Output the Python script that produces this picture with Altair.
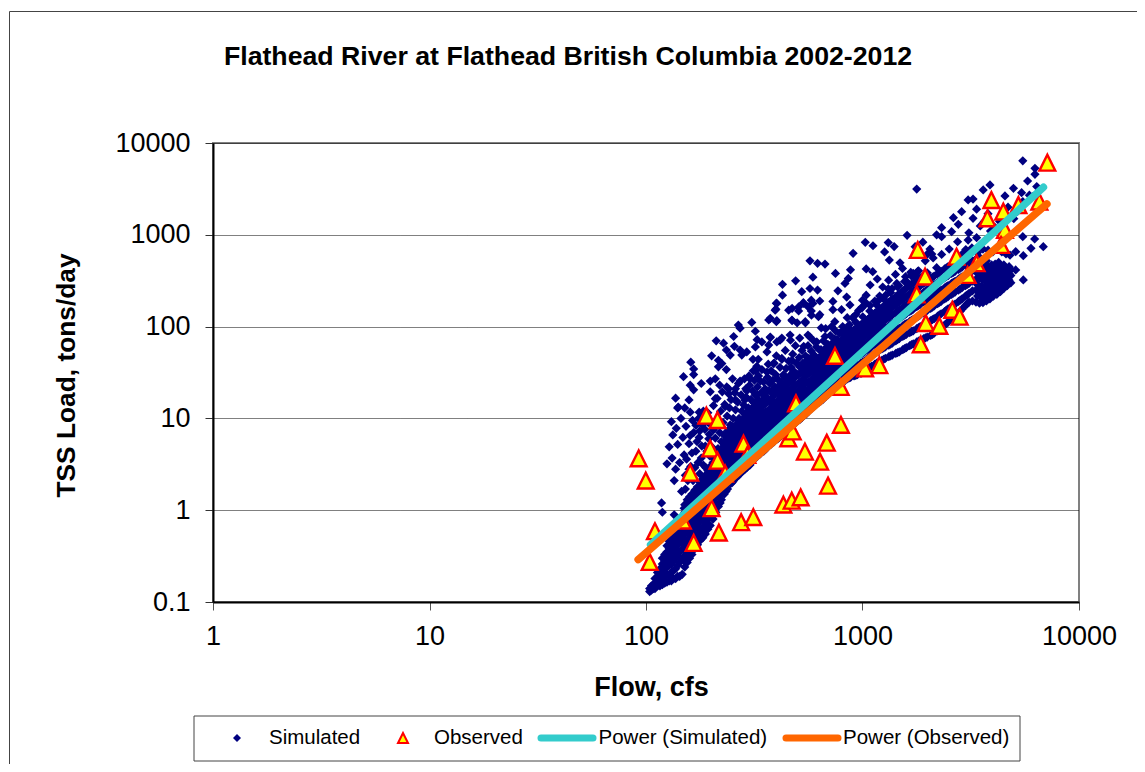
import altair as alt
import pandas as pd

TITLE = "Flathead River at Flathead British Columbia 2002-2012"
X_TITLE = "Flow, cfs"
Y_TITLE = "TSS Load, tons/day"
X_TICKS = [1, 10, 100, 1000, 10000]
Y_TICKS = [0.1, 1, 10, 100, 1000, 10000]
LEGEND_LABELS = ["Simulated", "Observed", "Power (Simulated)", "Power (Observed)"]

# Simulated: dense band, read as flow -> loads
SIM_BAND = [
 (104,[.13,.14]),(106,[.135,.15]),(108,[.14,.155]),(110,[.14,.16,.18]),(113,[.15,.17,.19,.21]),
 (116,[.15,.17,.2,.23]),(119,[.155,.18,.22,.26,.3]),(122,[.16,.19,.23,.28,.33]),(125,[.165,.2,.24,.29,.35,.41]),
 (128,[.17,.2,.25,.31,.38,.46]),(131,[.17,.21,.26,.33,.41,.5]),(134,[.18,.22,.28,.35,.44,.56]),
 (137,[.18,.23,.3,.38,.48,.62]),(140,[.19,.25,.32,.42,.53,.68]),(143,[.19,.27,.35,.45,.58,.75]),
 (147,[.2,.29,.38,.5,.65,.85]),(151,[.24,.32,.42,.55,.72,.95,1.15]),(155,[.27,.35,.46,.6,.8,1.05,1.3]),
 (159,[.3,.39,.5,.66,.88,1.15,1.4]),(163,[.33,.43,.56,.73,.97,1.25,1.5]),(168,[.38,.48,.62,.8,1.05,1.35,1.65]),
 (173,[.42,.54,.7,.9,1.15,1.5,1.8]),(178,[.47,.6,.78,1,1.3,1.65,2]),(183,[.5,.65,.85,1.1,1.4,1.8,2.2]),
 (188,[.55,.72,.93,1.2,1.55,2,2.4]),(193,[.62,.8,1.02,1.3,1.7,2.2,2.7]),(198,[.68,.87,1.1,1.45,1.85,2.4,3]),
 (204,[.8,1,1.3,1.6,2.1,2.7,3.3]),(210,[.95,1.2,1.5,1.9,2.4,3,3.7]),(216,[1.1,1.4,1.75,2.2,2.7,3.4,4.2]),
 (223,[1.3,1.6,2,2.5,3.1,3.8,4.7]),(230,[1.5,1.85,2.3,2.8,3.5,4.3,5.2]),(238,[1.7,2.1,2.6,3.2,3.9,4.8,5.8]),
 (246,[1.95,2.4,2.9,3.5,4.3,5.2,6.3]),(254,[2.1,2.6,3.1,3.8,4.7,5.7,7]),(263,[2.3,2.8,3.4,4.2,5.1,6.2,7.5]),
 (272,[2.5,3.1,3.7,4.5,5.5,6.7,8]),(282,[2.7,3.3,4,4.9,6,7.2,8.6]),(292,[2.9,3.6,4.3,5.2,6.3,7.7,9.3]),
 (302,[3.1,3.8,4.6,5.6,6.8,8.3,10]),(313,[3.5,4.2,5.1,6.1,7.4,9,11]),(325,[3.8,4.6,5.5,6.6,8,9.8,12]),
 (337,[4.1,5,6,7.2,8.7,10.5,13]),(350,[4.4,5.3,6.4,7.8,9.4,11.5,14]),(363,[4.8,5.8,7,8.4,10,12,15]),
 (377,[5.2,6.3,7.6,9.1,11,13,16]),(391,[5.6,6.8,8.2,9.8,12,14.5,18]),(406,[6,7.3,8.8,10.6,13,15.5,19]),
 (421,[6.5,7.9,9.5,11.5,14,17,20]),(437,[7,8.5,10.2,12.5,15,18,22]),(453,[7.6,9.2,11,13.5,16,19.5,24]),
 (470,[8.2,10,12,14.5,17.5,21,26]),(488,[8.8,10.6,13,15.5,19,23,28]),(506,[9.5,11.5,14,17,20,24,30]),
 (525,[10.2,12.5,15,18,22,26,32]),(545,[11,13.5,16,19.5,24,29,35]),(565,[12,14.5,17.5,21,25,31,37]),
 (586,[13,15.5,19,23,27,33,40]),(608,[14,17,20,24,29,35,42]),(631,[15,18,22,26,31,38,45]),
 (655,[16,19.5,23,28,34,40,48]),(680,[17.5,21,25,30,36,43,52]),(705,[19,23,27,32,39,46,55]),
 (732,[20.5,25,29,35,42,50,60]),(760,[22,26,31,37,45,54,64]),(788,[23,28,34,40,48,58,68]),
 (818,[25,30,36,43,52,62,74]),(849,[27,32,39,47,56,67,80]),(881,[28,34,41,50,60,72,86]),
 (914,[29,36,44,53,64,77,92]),(948,[30,38,47,57,68,82,98]),(984,[31,40,50,60,73,88,105]),
 (1021,[32,42,53,65,78,94,112]),(1060,[35,45,56,69,84,100,120]),(1100,[37,48,60,74,90,108,130]),
 (1141,[39,51,64,79,96,116,140]),(1184,[41,54,68,84,102,124,150]),(1229,[43,57,72,90,110,133,160]),
 (1275,[45,60,76,96,118,142,172]),(1323,[47,63,81,102,126,152,185]),(1373,[49,66,86,108,134,162,198]),
 (1425,[51,70,91,115,142,174,212]),(1479,[53,74,96,122,152,186,228]),(1535,[56,78,102,130,162,198,245]),
 (1593,[59,82,108,138,172,212,262]),(1653,[62,86,114,146,184,228,280]),(1716,[65,90,120,155,196,244,300]),
 (1781,[68,95,127,165,208,260,320]),(1848,[71,100,134,175,222,278,340]),(1918,[74,105,142,186,236,296,360]),
 (1990,[77,110,150,198,252,315,385]),(2065,[80,116,158,210,268,335]),(2143,[85,122,168,222,285,355]),
 (2224,[90,130,178,236,302,378]),(2308,[96,138,188,250,320,400]),(2395,[104,146,200,265,340,425]),
 (2485,[112,156,212,280,360,450]),(2579,[120,166,225,296,380,475]),(2676,[130,176,238,312,400,500]),
 (2777,[140,188,250,330,420,525]),(2882,[155,200,265,348,445,555]),(2991,[170,215,280,368,470,585]),
 (3104,[185,230,296,388,495]),(3221,[190,245,312,408,520]),(3343,[185,250,328,428,545]),
 (3469,[180,245,335,448,570]),(3600,[182,240,320,430]),(3736,[190,240,310,400,520]),
 (3877,[200,255,325,410]),(4023,[215,265,335,430]),(4175,[225,280,350,440]),(4333,[240,300,370,460]),
 (4497,[260,320,390,470]),(4667,[280,340,410]),(4843,[300,360,420]),
]

# Simulated: same band, the readings that lie between the columns above
SIM_BAND_2 = [
 (150,[.28,.37,.48,.63,.83,1.05]),(157,[.32,.43,.55,.73,.96,1.25]),(165,[.39,.5,.66,.86,1.13,1.45]),
 (175,[.49,.63,.82,1.04,1.35,1.75]),(185,[.58,.75,.97,1.25,1.6,2.1]),(195,[.7,.93,1.2,1.55,2,2.55]),
 (207,[.9,1.15,1.42,1.8,2.3,3,3.8]),(220,[1.2,1.5,1.85,2.3,2.9,3.6,4.5]),(234,[1.6,2,2.45,3,3.7,4.5,5.5,6.6]),
 (250,[2,2.5,3,3.7,4.5,5.5,6.7,8.2]),(268,[2.4,3,3.6,4.4,5.3,6.5,7.8,9.5]),(287,[2.8,3.5,4.2,5.1,6.2,7.5,9,11]),
 (307,[3.3,4,4.9,5.9,7.1,8.7,10.5,12.8]),(331,[4,4.8,5.8,6.9,8.4,10.2,12.5,15]),(356,[4.6,5.6,6.7,8.1,9.7,11.8,14.5,17.5]),
 (384,[5.4,6.5,7.9,9.4,11.5,14,17,20.5]),(413,[6.2,7.6,9.1,11,13.5,16,19.5,23]),(445,[7.3,8.8,10.6,13,15.5,18.7,23,27]),
 (479,[8.5,10.3,12.5,15,18,22,27,32]),(516,[9.8,12,14.5,17.5,21,25,31,37]),(555,[11.5,14,16.7,20,24.5,30,36,43]),
 (597,[13.5,16,19.5,23.5,28,34,41,49]),(643,[15.5,18.7,22.5,27,32.5,39,47,56]),(692,[18,22,26,31,37.5,45,54,64]),
 (745,[21,25.5,30,36,43.5,52,62,73]),(803,[24,29,35,41.5,50,60,71,84]),(865,[27.5,33,40,48.5,58,69.5,83,97]),
 (931,[29.5,37,45.5,55,66,79.5,95,112]),(1003,[31.5,41,51.5,62.5,75.5,91,108,128]),(1080,[36,46.5,58,71.5,87,104,125,148]),
 (1162,[40,52.5,66,81.5,99,120,145,172]),(1252,[44,58.5,74,93,114,137,166,200]),(1348,[48,64.5,83.5,105,130,157,191,235]),
 (1452,[52,72,93.5,118,147,180,220,270]),(1564,[57.5,80,105,134,167,205,253,310]),(1685,[63.5,88,117,150,190,236,290,355]),
 (1815,[69.5,97.5,130,170,215,269,330,405]),(1954,[75.5,107,146,192,244,305,372]),(2104,[82,119,163,216,276,345]),
 (2266,[93,134,183,243,311,389]),(2440,[108,151,206,272,350,437]),(2627,[125,171,231,304,390,487]),
 (2829,[147,194,257,339,432,540]),(3047,[177,222,288,378,482]),(3400,[215,285,380,490]),(3535,[210,275,370,480]),
 (3668,[210,270,350,460]),(3806,[220,280,360,460]),(3950,[230,290,370,470]),(4100,[240,305,385,480]),
 (4254,[260,325,405,500]),(4415,[280,345,430]),(4580,[300,365,440]),(4755,[320,380,450]),
]

# Simulated: scattered points, left wing
SIM_LEFT = [
 (118,1.2),(119,.95),(125,3.2),(128,4.9),(131,9.2),(132,3.7),(133,6.6),(135,.89),(135,2.1),(137,2.8),(138,7.8),(140,13),
 (140,5.2),(143,3.3),(145,10),(146,1.6),(148,6.2),(150,4),(151,13),(152,2.4),(153,8.2),(158,5.3),(161,3),(164,9.5),(166,7),
 (170,4.4),(175,10),(176,6.2),(180,3.7),(182,8.5),(184,12),(188,5),(194,9),(196,6.7),(205,7.5),(218,9.5),
]

# Simulated: scattered points read one by one from the top edge of the cloud
SIM_TOP = [
 (137,16.6),(141,13.3),(158,15.9),(149,28.5),(161,41),(166,34.6),(166,30),(160,23),(166,20.5),(180,24),(160,11.7),(176,11.7),
 (198,25.5),(209,27),(219,23),(201,48),(211,70),(228,66),(235,55.6),(245,49),(216,43),(224,39.6),(216,36.5),(235,34),(254,78),
 (256,61),(272,55.6),(292,53),(277,49),(320,60),(320,89),(326,72),(343,68),(267,104),(272,96),(308,111),(369,118),(402,116),
 (395,151),(402,179),(472,118),(499,110),(456,151),(507,164),(544,113),(535,179),(590,179),(581,133),(626,128),(375,77),(402,68),
 (369,63),(362,53),(424,75),(465,71),(388,39.6),(424,45),(330,44),(312,44),(320,33),(362,32),(432,29),(272,25.5),(302,27),
 (337,25.5),(236,22),(259,21),(292,20),(241,18.5),(198,19.5),(209,16.4),(232,13.4),(259,15.9),(286,15.9),(362,20),(326,18),
 (402,20),(513,75),(572,77),(615,68),(535,61),(472,43),(553,41),
 (1030,828),(1118,760),(905,628),(1315,822),(1400,745),(1265,650),(1330,530),(1490,495),(572,520),(620,489),(671,480),(590,345),
 (750,380),(880,415),(1040,425),(1115,397),(860,335),(830,295),(770,245),(427,289),(491,315),(427,220),(524,240),(572,260),
 (620,250),(635,190),(533,182),(580,194),(560,165),(400,180),(398,155),(473,158),(507,148),(580,148),(635,135),(730,188),
 (730,153),(845,210),(800,153),(875,172),(995,160),(1085,284),(1040,220),(1000,194),(1190,194),(1315,258),(1440,295),(1580,350),
 (1716,380),(1540,205),(1350,187),(375,123),(400,113),(473,116),(545,110),(745,113),(645,97),(720,100),(850,125),(810,90),
 (375,76),(416,71),(463,81),(560,81),(671,78),(770,71),
]

# Simulated: scattered points, right end
SIM_RIGHT = [
 (1170,330),(1240,270),(1320,320),(1370,260),(1420,370),(1470,280),(1530,430),(1600,310),(1607,988),(1670,390),(1690,374),
 (1750,742),(1750,350),(1780,3150),(1800,400),(1820,640),(1900,830),(1950,520),(2000,620),(2050,700),(2090,617),(2120,560),
 (2200,438),(2200,1000),(2320,1195),(2320,955),(2320,612),(2515,700),(2580,1080),(2630,1535),(2750,840),(2770,1300),(2870,1785),
 (2900,620),(3000,690),(3075,2400),(3075,877),(3100,1050),(3200,720),(3240,2450),(3240,1510),(3365,1900),(3365,930),(3400,640),
 (3500,1250),(3600,700),(3610,3080),(3650,1400),(3800,1700),(3800,680),(3880,3490),(3900,1100),(4000,650),(4100,1200),(4200,700),
 (4300,1400),(4400,650),(4550,2650),(4600,620),(4700,2000),(4800,600),(4980,3210),(5000,1500),(5100,655),(5100,414),(5200,1800),
 (5430,2880),(5500,6400),(5500,2300),(5500,955),(5530,592),(5530,322),(5790,3855),(5900,2700),(6000,713),(6100,2600),(6240,900),
 (6260,5300),(6260,4560),(6380,3350),(6840,742),
]

# Simulated: the busier middle of the cloud
SIM_MIDDLE = [
 (152,1.7),(156,2.1),(154,3.6),(158,2.8),(160,6.5),(163,4.2),(165,2.1),(168,2.9),(170,8.4),(172,5.6),(174,3.3),(177,2.5),(177,7.3),
 (180,10.5),(181,5.0),(184,3.1),(187,7.6),(189,2.9),(191,4.4),(193,11.5),(195,6),(197,3.9),(201,8.6),(203,4.8),(205,13.8),(207,3.6),
 (209,6.1),(211,9.3),(213,16.5),(215,4.7),(219,7),(221,12),(223,5.6),(225,19.5),(227,9),(229,6.6),(231,14.2),(235,5.9),(237,10.6),
 (239,7.4),(241,21),(243,13),(245,8.5),(247,16),(249,6.8),(251,27),(253,10),(255,8),(257,19),(259,12.4),(263,8.7),(265,15),(267,24),
 (269,10),(271,9),(275,18),(277,12),(279,9.3),(283,14),(285,27),(287,10.4),(289,21),(291,17),(293,11.8),(297,13),(299,29),(301,23),
 (303,11),(305,16),(309,12.5),(311,20),(313,33),(315,14.8),(317,26),(319,18),(323,13.6),(325,37),(327,22),(329,16),(331,29),(334,14),
 (340,19),(343,34),(346,16),(349,25),(355,21),(358,17),(364,28),(367,39),(370,20),(373,24),(379,33),(382,19),(385,26),(391,40),(394,22),
 (397,30),(400,48),(404,27),(408,20),(416,36),(420,25),(424,44),(432,30),(436,23),(440,55),(444,35),(448,27),(456,42),(460,29),(468,36),
 (472,26),(476,50),(480,33),(490,62),(495,40),(500,30),(510,46),(515,36),(525,55),(530,40),(535,33),(545,48),(555,38),(560,62),(565,45),
 (575,40),(580,54),(590,44),(595,70),(600,48),(612,60),(620,42),(636,55),(644,48),(660,70),(668,55),(676,95),(684,60),(692,52),(710,80),
 (720,65),(740,58),(750,90),(760,72),(780,85),(790,68),(810,100),(820,80),(845,90),(870,105),(900,125),(930,135),(960,150),(1000,165),
 (1040,180),(1085,170),(1140,190),(1200,215),(1280,220),
]

OBS_FLOW = [92.5,99.7,110,104,148,160,166,190,214,198,214,232,201,217,275,313,282,294,431,471,518,493,454,476,542,637,684,693,795,793,
            7140,3940,4470,5250,6560,3775,4550,4365,1800,2720,3365,1945,3060,1780,2600,2810,1960,2265,1858,746,1196,1028]
OBS_LOAD = [3.67,2.1,.59,.273,.77,2.56,.44,10.7,9.6,4.7,3.46,2.5,1.05,.57,.74,.84,5.3,4,1.15,1.27,1.38,14.6,6.07,7.2,4.34,3.37,5.43,1.85,8.5,22,
            6100,2390,1790,2110,2300,1510,1130,774,683,577,490,350,365,225,152,128,109,102,64,48,38,35]

TREND_SIM_FLOW = [105, 6850]
TREND_SIM_LOAD = [0.42, 3290]
TREND_OBS_FLOW = [92, 7110]
TREND_OBS_LOAD = [0.29, 2170]

sim_rows = [{"flow": f, "load": v} for f, vs in SIM_BAND + SIM_BAND_2 for v in vs]
sim_rows += [{"flow": f, "load": v} for f, v in SIM_LEFT + SIM_TOP + SIM_RIGHT + SIM_MIDDLE]
sim_df = pd.DataFrame(sim_rows)
obs_df = pd.DataFrame({"flow": OBS_FLOW, "load": OBS_LOAD})
t_sim = pd.DataFrame({"flow": TREND_SIM_FLOW, "load": TREND_SIM_LOAD})
t_obs = pd.DataFrame({"flow": TREND_OBS_FLOW, "load": TREND_OBS_LOAD})

FONT = "Liberation Sans"
TRI = "M0,-1L-1,1L1,1Z"

x_enc = alt.X("flow:Q", scale=alt.Scale(type="log", domain=[1, 10000], nice=False),
              axis=alt.Axis(values=X_TICKS, grid=False, labelExpr="'' + datum.value", labelFont=FONT, labelFontSize=27,
                            labelColor="black", labelPadding=13, tickSize=8, tickColor="#555555", domainColor="black",
                            domainWidth=2, labelFlush=False, labelOverlap=False, title=X_TITLE, titleFont=FONT,
                            titleFontSize=27, titleFontWeight="bold", titleColor="black", titleX=438, titleY=85,
                            titleBaseline="middle"))
y_enc = alt.Y("load:Q", scale=alt.Scale(type="log", domain=[0.1, 10000], nice=False),
              axis=alt.Axis(values=Y_TICKS, grid=True, gridColor="#000000", gridDash=[1, 1], gridWidth=1,
                            labelExpr="'' + datum.value", labelFont=FONT, labelFontSize=27, labelColor="black",
                            labelPadding=15, tickSize=8, tickColor="#333333", domainColor="black", domainWidth=2,
                            labelFlush=False, labelOverlap=False, title=Y_TITLE, titleFont=FONT, titleFontSize=26.3,
                            titleFontWeight="bold", titleColor="black", titleX=-147, titleY=232,
                            titleBaseline="middle"))

sim = alt.Chart(sim_df).mark_point(filled=True, shape="diamond", size=85, color="#000080", opacity=1).encode(x=x_enc, y=y_enc)
obs = alt.Chart(obs_df).mark_point(filled=True, shape=TRI, size=250, fill="#FFFF00", stroke="#FF0000",
                                   strokeWidth=2.4, opacity=1).encode(x="flow:Q", y="load:Q")
teal = alt.Chart(t_sim).mark_line(color="#33CCCC", strokeWidth=7.5, strokeCap="round").encode(x="flow:Q", y="load:Q")
orange = alt.Chart(t_obs).mark_line(color="#FF6600", strokeWidth=7.5, strokeCap="round").encode(x="flow:Q", y="load:Q")

one = alt.Data(values=[{"a": 1}])
V = alt.value

frame_l = alt.Chart(one).mark_rule(color="#444444", strokeWidth=1).encode(x=V(-203.5), y=V(-131.5), y2=V(640))
frame_t = alt.Chart(one).mark_rule(color="#444444", strokeWidth=1).encode(x=V(-203.5), x2=V(932), y=V(-131.5))

title_text = alt.Chart(one).mark_text(text=TITLE, font=FONT, fontSize=26.7, fontWeight="bold", color="black",
                                      align="center", baseline="middle").encode(x=V(355), y=V(-86))
leg_box = alt.Chart(one).mark_rect(fill="white", stroke="#444444", strokeWidth=1).encode(x=V(-19), x2=V(807), y=V(573), y2=V(618))
leg_d = alt.Chart(one).mark_point(filled=True, shape="diamond", size=64, color="#000080", opacity=1).encode(x=V(24), y=V(595))
leg_o = alt.Chart(one).mark_point(filled=True, shape=TRI, size=100, fill="#FFFF00", stroke="#FF0000",
                                  strokeWidth=2, opacity=1).encode(x=V(190), y=V(595))
leg_t = alt.Chart(one).mark_rule(color="#33CCCC", strokeWidth=7, strokeCap="round").encode(x=V(328), x2=V(380), y=V(595))
leg_r = alt.Chart(one).mark_rule(color="#FF6600", strokeWidth=7, strokeCap="round").encode(x=V(573), x2=V(625), y=V(595))
leg_text = [
    alt.Chart(one).mark_text(text=LEGEND_LABELS[i], font=FONT, fontSize=20.5, color="black", align="left", baseline="middle").encode(x=V(px), y=V(595))
    for i, px in enumerate([56, 221, 385.5, 630])
]

chart = alt.layer(frame_l, frame_t, title_text, sim, obs, teal, orange, leg_box, leg_d, leg_o, leg_t, leg_r, *leg_text).properties(
    width=866, height=459,
    autosize=alt.AutoSizeParams(type="none"),
    padding={"left": 205, "top": 135, "right": 58, "bottom": 162},
    background="white",
).configure_view(stroke="#808080", strokeWidth=2)

chart.save("out.html", embed_options={"renderer": "svg", "actions": False})
